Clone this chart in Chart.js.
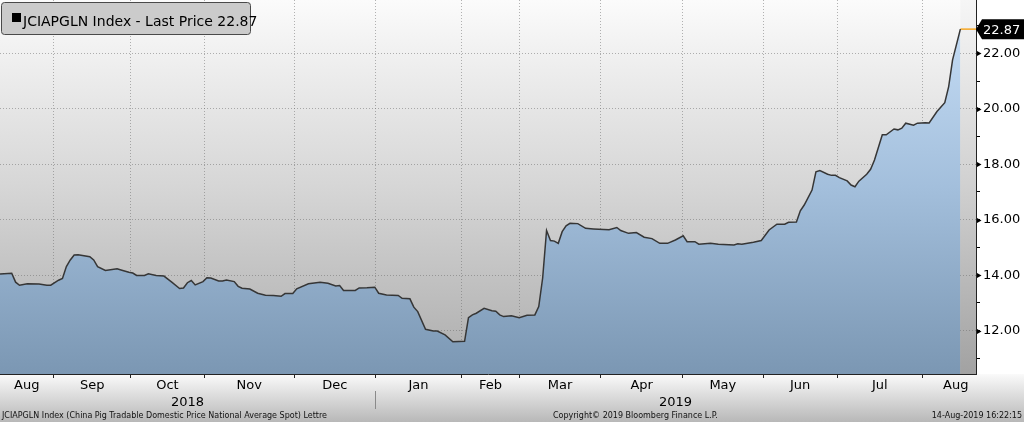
<!DOCTYPE html>
<html>
<head>
<meta charset="utf-8">
<script src="https://cdn.jsdelivr.net/npm/chart.js@4.4.0/dist/chart.umd.min.js"></script>
<style>
  html, body { margin: 0; padding: 0; background: #fff; }
  #wrap { width: 1024px; height: 422px; }
</style>
</head>
<body>
<div id="wrap"><canvas id="pigChart" width="1024" height="422"></canvas></div>
<script>
// trading-day index from the left edge of the chart (mid Aug 2018)
const days = [
  0, 3, 4, 5, 7, 10, 12, 13, 15, 16,
  17, 18, 19, 20, 23, 24, 25, 27, 30, 31,
  33, 34, 35, 37, 38, 40, 42, 43, 44, 46,
  47, 48, 49, 50, 52, 53, 54, 56, 57, 58,
  60, 61, 62, 64, 66, 68, 70, 72, 73, 75,
  76, 79, 82, 84, 86, 87, 88, 91, 92, 94,
  96, 97, 99, 102, 103, 105, 106, 107, 109, 111,
  112, 114, 116, 119, 120, 121, 122, 124, 126, 127,
  128, 129, 131, 133, 135, 137, 138, 139, 140, 141,
  142, 143, 144, 145, 146, 148, 150, 152, 156, 158,
  159, 161, 163, 165, 167, 169, 171, 173, 175, 176,
  178, 179, 182, 184, 188, 189, 190, 193, 195, 197,
  199, 201, 202, 204, 205, 206, 208, 209, 210, 212,
  213, 214, 215, 217, 218, 219, 220, 222, 223, 224,
  226, 227, 229, 230, 231, 232, 234, 235, 237, 238,
  240, 242, 243, 244, 246
];
const prices = [
  14.04, 14.07, 13.75, 13.64, 13.69, 13.68, 13.64, 13.64, 13.82, 13.88,
  14.31, 14.55, 14.73, 14.74, 14.67, 14.55, 14.31, 14.17, 14.23, 14.19,
  14.11, 14.08, 13.99, 13.99, 14.05, 13.99, 13.97, 13.86, 13.75, 13.52,
  13.54, 13.73, 13.81, 13.65, 13.77, 13.91, 13.90, 13.79, 13.79, 13.83,
  13.77, 13.60, 13.53, 13.50, 13.35, 13.28, 13.27, 13.24, 13.34, 13.34,
  13.51, 13.69, 13.75, 13.71, 13.61, 13.63, 13.45, 13.45, 13.54, 13.55,
  13.57, 13.35, 13.29, 13.27, 13.17, 13.15, 12.85, 12.69, 12.05, 11.99,
  11.99, 11.85, 11.60, 11.62, 12.47, 12.57, 12.63, 12.81, 12.72, 12.70,
  12.57, 12.51, 12.54, 12.47, 12.56, 12.57, 12.87, 13.90, 15.61, 15.25,
  15.23, 15.15, 15.57, 15.78, 15.87, 15.86, 15.69, 15.67, 15.64, 15.72,
  15.61, 15.51, 15.54, 15.37, 15.32, 15.15, 15.15, 15.27, 15.42, 15.21,
  15.21, 15.12, 15.15, 15.12, 15.09, 15.13, 15.12, 15.19, 15.25, 15.63,
  15.84, 15.84, 15.91, 15.92, 16.32, 16.53, 17.07, 17.73, 17.77, 17.64,
  17.60, 17.60, 17.52, 17.40, 17.25, 17.19, 17.39, 17.64, 17.82, 18.15,
  19.06, 19.06, 19.27, 19.24, 19.30, 19.48, 19.41, 19.48, 19.50, 19.49,
  19.90, 20.22, 20.80, 21.76, 22.87
];

// month boundaries (first trading day of each month), labels sit between them
const monthEdges = [0, 13.7, 33.5, 52.3, 75.4, 96.1, 118.3, 133, 153.9, 174.8, 195.5, 214.4, 236.3, 253.3];
const monthLabels = ['Aug', 'Sep', 'Oct', 'Nov', 'Dec', 'Jan', 'Feb', 'Mar', 'Apr', 'May', 'Jun', 'Jul', 'Aug'];
const yearEdges = [0, 96.1, 250];
const yearLabels = ['2018', '2019'];
const yTicks = [11, 12, 13, 14, 15, 16, 17, 18, 19, 20, 21, 22, 23];

const lastPrice = prices[prices.length - 1];
const lastDay = days[days.length - 1];
const xMax = 250;

const FONT = '"DejaVu Sans", Verdana, sans-serif';
const GRID = 'rgba(105, 105, 105, 0.5)';

const points = days.map((d, i) => ({ x: d, y: prices[i] }));
const monthMids = monthLabels.map((m, i) => (monthEdges[i] + monthEdges[i + 1]) / 2);

function areaGradient(context) {
  const { ctx, chartArea } = context.chart;
  if (!chartArea) return '#9bb7d4';
  const g = ctx.createLinearGradient(0, chartArea.top, 0, chartArea.bottom);
  g.addColorStop(0, '#c9e0f8');
  g.addColorStop(0.5, '#a3bfdc');
  g.addColorStop(1, '#7b97b3');
  return g;
}

const bloombergFrame = {
  id: 'bloombergFrame',
  beforeDraw(chart) {
    const { ctx, chartArea: a, width, height } = chart;
    ctx.save();
    ctx.fillStyle = '#fff';
    ctx.fillRect(0, 0, width, height);
    // strip under the plot
    let g = ctx.createLinearGradient(0, a.bottom, 0, height);
    g.addColorStop(0, '#fafafa');
    g.addColorStop(1, '#b8b8b8');
    ctx.fillStyle = g;
    ctx.fillRect(0, a.bottom, width, height - a.bottom);
    // plot background
    g = ctx.createLinearGradient(0, a.top, 0, a.bottom);
    g.addColorStop(0, '#fbfbfb');
    g.addColorStop(0.5, '#d6d6d6');
    g.addColorStop(1, '#acacac');
    ctx.fillStyle = g;
    ctx.fillRect(a.left, a.top, a.right - a.left, a.bottom - a.top);
    // area after the last price
    const xl = chart.scales.x.getPixelForValue(lastDay);
    g = ctx.createLinearGradient(0, a.top, 0, a.bottom);
    g.addColorStop(0, '#f6f6f6');
    g.addColorStop(0.5, '#d0d0d0');
    g.addColorStop(1, '#a2a2a2');
    ctx.fillStyle = g;
    ctx.fillRect(xl, a.top, a.right - xl, a.bottom - a.top);
    ctx.restore();
  },
  afterDraw(chart) {
    const { ctx, chartArea: a, width } = chart;
    const ys = chart.scales.y;
    const xs = chart.scales.x;
    ctx.save();

    // arrow marks on the major y ticks
    ctx.fillStyle = '#000';
    yTicks.filter(v => v % 2 === 0).forEach(v => {
      const y = Math.round(ys.getPixelForValue(v)) + 0.5;
      ctx.beginPath();
      ctx.moveTo(a.right + 1, y - 2.6);
      ctx.lineTo(a.right + 5.5, y);
      ctx.lineTo(a.right + 1, y + 2.6);
      ctx.closePath();
      ctx.fill();
    });

    // last price tag
    const yp = ys.getPixelForValue(lastPrice);
    ctx.fillStyle = '#000';
    ctx.beginPath();
    ctx.moveTo(a.right, yp);
    ctx.lineTo(a.right + 6, yp - 10);
    ctx.lineTo(width, yp - 10);
    ctx.lineTo(width, yp + 10);
    ctx.lineTo(a.right + 6, yp + 10);
    ctx.closePath();
    ctx.fill();
    ctx.fillStyle = '#fff';
    ctx.font = '13px ' + FONT;
    ctx.textBaseline = 'middle';
    ctx.textAlign = 'left';
    ctx.fillText(lastPrice.toFixed(2), a.right + 7, yp + 1);

    // legend box
    ctx.beginPath();
    ctx.roundRect(1.5, 2.5, 249, 32, 3);
    ctx.fillStyle = '#cbcbcb';
    ctx.fill();
    ctx.strokeStyle = '#4a4a4a';
    ctx.lineWidth = 1;
    ctx.stroke();
    ctx.fillStyle = '#000';
    ctx.fillRect(12, 13, 9, 9);
    ctx.font = '14px ' + FONT;
    ctx.textBaseline = 'alphabetic';
    ctx.fillText('JCIAPGLN Index - Last Price ' + lastPrice.toFixed(2), 23, 25.5);

    // years
    ctx.font = '13px ' + FONT;
    ctx.textAlign = 'center';
    yearLabels.forEach((t, i) => {
      const x = (xs.getPixelForValue(yearEdges[i]) + xs.getPixelForValue(yearEdges[i + 1])) / 2;
      ctx.fillText(t, x, 406);
    });
    const xsep = Math.round(xs.getPixelForValue(yearEdges[1])) + 0.5;
    ctx.strokeStyle = '#8a8a8a';
    ctx.beginPath();
    ctx.moveTo(xsep, 391);
    ctx.lineTo(xsep, 409);
    ctx.stroke();

    // footer
    ctx.font = '8px ' + FONT;
    ctx.fillStyle = '#111';
    ctx.textAlign = 'left';
    ctx.fillText('JCIAPGLN Index (China Pig Tradable Domestic Price National Average Spot) Lettre', 2, 418);
    ctx.fillText('Copyright\u00a9 2019 Bloomberg Finance L.P.', 553, 418);
    ctx.textAlign = 'right';
    ctx.fillText('14-Aug-2019 16:22:15', 1022, 418);
    ctx.restore();
  }
};

new Chart(document.getElementById('pigChart'), {
  type: 'line',
  data: {
    datasets: [{
      label: 'JCIAPGLN Index',
      data: points,
      borderColor: '#363636',
      borderWidth: 1.5,
      backgroundColor: areaGradient,
      fill: 'start',
      pointRadius: 0,
      tension: 0
    }, {
      label: 'Last Price',
      data: [{ x: lastDay, y: lastPrice }, { x: xMax, y: lastPrice }],
      borderColor: '#f5a623',
      borderWidth: 1.5,
      fill: false,
      pointRadius: 0,
      tension: 0
    }]
  },
  options: {
    responsive: false,
    animation: false,
    devicePixelRatio: 1,
    layout: { padding: 0 },
    plugins: {
      legend: { display: false },
      tooltip: { enabled: false }
    },
    scales: {
      x: {
        type: 'linear',
        position: 'bottom',
        weight: 0,
        min: 0,
        max: xMax,
        z: 1,
        afterBuildTicks: scale => { scale.ticks = monthEdges.slice(1, -1).map(v => ({ value: v })); },
        afterFit: scale => { scale.height = 4; scale.paddingLeft = 0; scale.paddingRight = 0; },
        grid: {
          color: GRID,
          lineWidth: 1,
          tickColor: '#222',
          tickLength: 4,
          drawTicks: true
        },
        border: { display: true, color: '#222', dash: [1, 2] },
        ticks: { display: false }
      },
      xm: {
        type: 'linear',
        position: 'bottom',
        weight: 1,
        min: 0,
        max: xMax,
        afterBuildTicks: scale => { scale.ticks = monthMids.map(v => ({ value: v })); },
        afterFit: scale => { scale.height = 44; scale.paddingLeft = 0; scale.paddingRight = 0; },
        grid: { display: false, drawTicks: false },
        border: { display: false },
        ticks: {
          autoSkip: false,
          maxRotation: 0,
          padding: 0,
          color: '#000',
          font: { family: FONT, size: 13 },
          callback: (v, i) => monthLabels[i]
        }
      },
      y: {
        position: 'right',
        min: 10.44,
        max: 23.92,
        z: 1,
        afterBuildTicks: scale => { scale.ticks = yTicks.map(v => ({ value: v })); },
        afterFit: scale => { scale.width = 48; scale.paddingTop = 0; scale.paddingBottom = 0; },
        grid: {
          color: c => (c.tick && c.tick.value % 2 === 0 ? GRID : 'rgba(0,0,0,0)'),
          tickColor: '#000',
          tickLength: 4
        },
        border: { display: true, color: '#222', dash: [1, 2] },
        ticks: {
          padding: 3,
          color: '#000',
          font: { family: FONT, size: 13 },
          callback: v => (v % 2 === 0 ? v.toFixed(2) : '')
        }
      }
    }
  },
  plugins: [bloombergFrame]
});
</script>
</body>
</html>
